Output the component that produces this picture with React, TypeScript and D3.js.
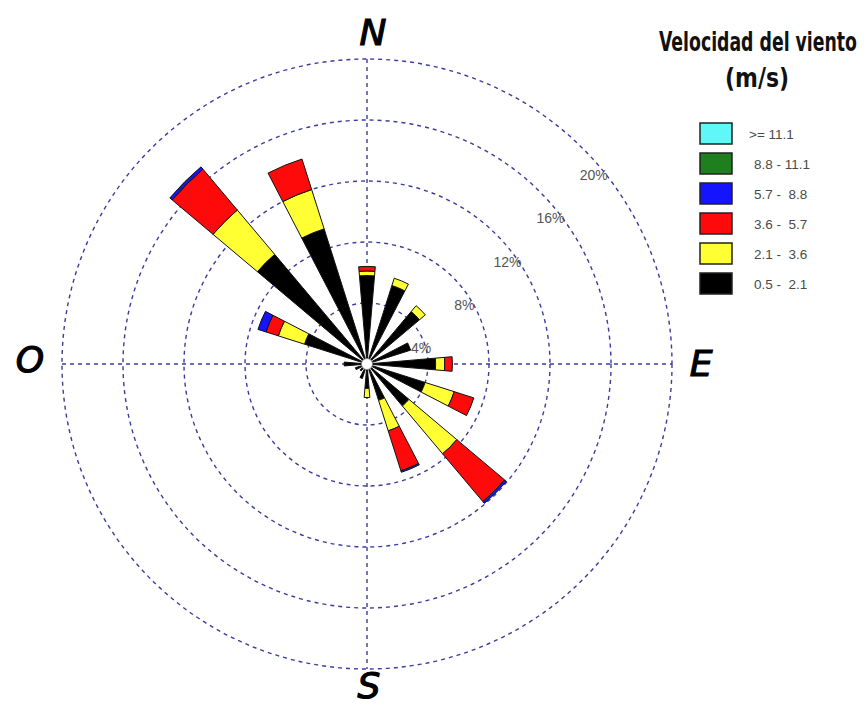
import React from 'react';
import * as d3 from 'd3';

// Sixteen compass sectors, clockwise from north
const directions = ['N', 'NNE', 'NE', 'ENE', 'E', 'ESE', 'SE', 'SSE', 'S', 'SSW', 'SW', 'WSW', 'W', 'WNW', 'NW', 'NNW'];

// Frequency (%) per sector for each wind-speed class (m/s)
const freq05to21 = [5.8, 5.4, 4.5, 3.0, 4.5, 4.0, 3.6, 2.5, 1.6, 1.0, 0.6, 0.8, 1.5, 4.3, 9.4, 9.3];
const freq21to36 = [0.3, 0.5, 0.5, 0, 0.6, 2.0, 4.1, 2.1, 0.6, 0, 0, 0, 0, 1.8, 3.8, 2.7];
const freq36to57 = [0.3, 0, 0, 0, 0.5, 1.35, 4.1, 2.75, 0, 0, 0, 0, 0, 0.85, 3.5, 2.1];
const freq57to88 = [0, 0, 0, 0, 0, 0, 0.15, 0.1, 0, 0, 0, 0, 0, 0.55, 0.2, 0];
const freq88to111 = [0, 0, 0, 0, 0, 0, 0, 0, 0, 0, 0, 0, 0, 0, 0, 0];
const freqOver111 = [0, 0, 0, 0, 0, 0, 0, 0, 0, 0, 0, 0, 0, 0, 0, 0];

// Stacking order from the centre outwards
const speedSeries = [freq05to21, freq21to36, freq36to57, freq57to88, freq88to111, freqOver111];
const speedColors = ['#000000', '#ffff33', '#ff0a0a', '#1414ff', '#1f7f1f', '#5ff7f7'];

// Legend rows, top to bottom
const legendLabels = ['>= 11.1', '8.8 - 11.1', '5.7 -  8.8', '3.6 -  5.7', '2.1 -  3.6', '0.5 -  2.1'];
const legendColors = ['#5ff7f7', '#1f7f1f', '#1414ff', '#ff0a0a', '#ffff33', '#000000'];

const ringTicks = [4, 8, 12, 16, 20];
const cardinalLabels = [
  { text: 'N', x: 373, y: 45 },
  { text: 'E', x: 701, y: 376 },
  { text: 'S', x: 369, y: 698 },
  { text: 'O', x: 30, y: 372 },
];

const W = 867;
const H = 708;
const cx = 367;
const cy = 364;
const maxR = 305;
const gridColor = '#3c3c9c';

export default function App() {
  const r = d3.scaleLinear().domain([0, 20]).range([0, maxR]);
  const angle = d3
    .scaleLinear()
    .domain([0, directions.length])
    .range([0, 2 * Math.PI]);
  const halfWidth = ((9.8 / 2) * Math.PI) / 180;
  const arc = d3.arc<any>();

  const wedges: { d: string; fill: string; key: string }[] = [];
  directions.forEach((dir, i) => {
    const a = angle(i);
    let cum = 0;
    speedSeries.forEach((series, s) => {
      const v = series[i];
      if (v <= 0) return;
      const inner = cum;
      cum += v;
      const d = arc({
        innerRadius: r(inner),
        outerRadius: r(cum),
        startAngle: a - halfWidth,
        endAngle: a + halfWidth,
      }) as string;
      wedges.push({ d, fill: speedColors[s], key: `${dir}-${s}` });
    });
  });

  const diag = Math.SQRT1_2;
  const titleFont = "'Liberation Sans Narrow', 'DejaVu Sans Condensed', 'Roboto', sans-serif";

  return (
    <svg
      width={W}
      height={H}
      viewBox={`0 0 ${W} ${H}`}
      style={{ position: 'absolute', left: 0, top: 0, background: '#ffffff' }}
    >
      <g transform={`translate(${cx},${cy})`}>
        {/* dashed rings */}
        {ringTicks.map((t) => (
          <circle
            key={`ring-${t}`}
            r={r(t)}
            fill="none"
            stroke={gridColor}
            strokeWidth={1.4}
            strokeDasharray="4 4"
          />
        ))}
        {/* compass axes */}
        <line x1={-maxR} y1={0} x2={maxR} y2={0} stroke={gridColor} strokeWidth={1.4} strokeDasharray="4 4" />
        <line x1={0} y1={-maxR} x2={0} y2={maxR} stroke={gridColor} strokeWidth={1.4} strokeDasharray="4 4" />
        {/* ring labels */}
        {ringTicks.map((t) => (
          <text
            key={`lab-${t}`}
            x={r(t) * diag + 11}
            y={-r(t) * diag + 27}
            textAnchor="middle"
            dominantBaseline="central"
            fontFamily="'Liberation Sans', Arial, sans-serif"
            fontSize={14}
            fill="#555555"
          >
            {`${t}%`}
          </text>
        ))}
        {/* stacked wedges */}
        {wedges.map((w) => (
          <path key={w.key} d={w.d} fill={w.fill} stroke="#111111" strokeWidth={1} strokeLinejoin="round" />
        ))}
        <circle r={5.5} fill="#ffffff" stroke="#888888" strokeWidth={0.8} />
      </g>

      {/* cardinal points */}
      {cardinalLabels.map((c) => (
        <text
          key={c.text}
          x={c.x}
          y={c.y}
          textAnchor="middle"
          fontFamily="'DejaVu Sans', sans-serif"
          fontStyle="italic"
          fontSize={36}
          fill="#000000"
          stroke="#000000"
          strokeWidth={1.2}
        >
          {c.text}
        </text>
      ))}

      {/* legend */}
      <text
        transform="translate(758,51) scale(1,1.4)"
        x={0}
        y={0}
        textAnchor="middle"
        fontFamily={titleFont}
        fontWeight="bold"
        fontSize={19}
        textLength={198}
        lengthAdjust="spacingAndGlyphs"
        fill="#111111"
      >
        Velocidad del viento
      </text>
      <text
        transform="translate(757,87) scale(1,1.4)"
        x={0}
        y={0}
        textAnchor="middle"
        fontFamily={titleFont}
        fontWeight="bold"
        fontSize={19}
        textLength={64}
        lengthAdjust="spacingAndGlyphs"
        fill="#111111"
      >
        (m/s)
      </text>
      {legendLabels.map((lab, i) => (
        <g key={lab} transform={`translate(700,${123 + i * 30})`}>
          <rect width={32} height={21} fill={legendColors[i]} stroke="#222222" strokeWidth={1.5} />
          <text
            x={i === 0 ? 49 : 54}
            y={15.5}
            fontFamily="'Liberation Sans', Arial, sans-serif"
            fontSize={13.5}
            fill="#4a4a4a"
            style={{ whiteSpace: 'pre' }}
          >
            {lab}
          </text>
        </g>
      ))}
    </svg>
  );
}
